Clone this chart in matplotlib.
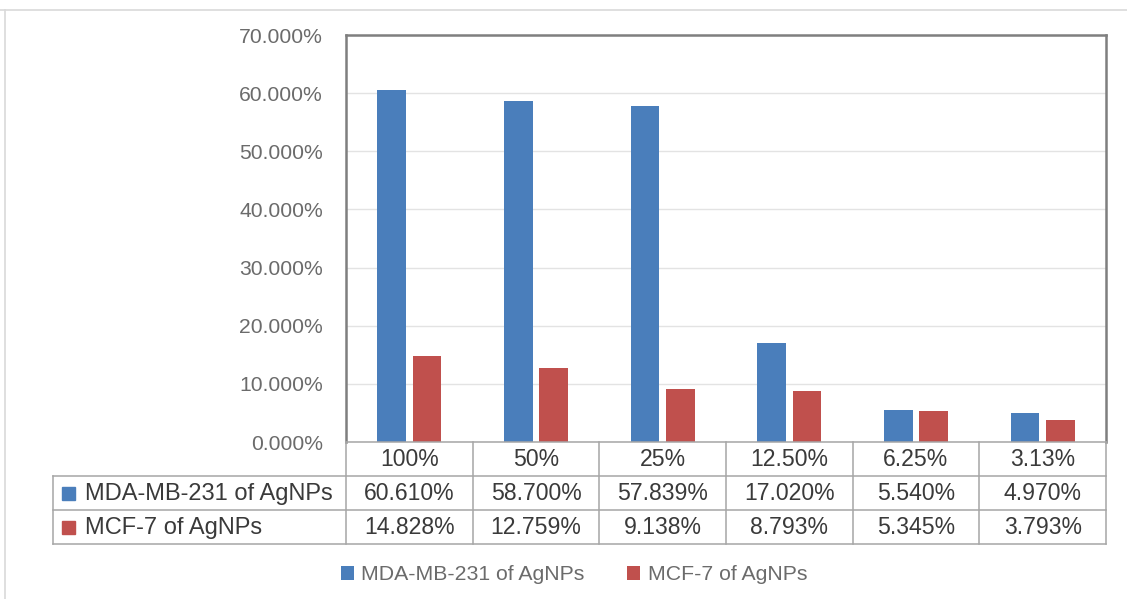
import matplotlib
matplotlib.use("Agg")
import matplotlib.pyplot as plt
from matplotlib.lines import Line2D
from matplotlib.patches import Rectangle
from matplotlib.ticker import FuncFormatter, MultipleLocator
import numpy as np

plt.rcParams["font.family"] = ["Liberation Sans", "DejaVu Sans"]

concentrations = ["100%", "50%", "25%", "12.50%", "6.25%", "3.13%"]
mda_mb_231 = [60.610, 58.700, 57.839, 17.020, 5.540, 4.970]
mcf_7 = [14.828, 12.759, 9.138, 8.793, 5.345, 3.793]
series_names = ["MDA-MB-231 of AgNPs", "MCF-7 of AgNPs"]

C_BLUE, C_RED = "#4a7ebb", "#c0504d"
C_TICK, C_TEXT = "#6b6b6b", "#3a3a3a"
C_GRID, C_TABLE, C_FRAME = "#e3e3e3", "#a6a6a6", "#7f7f7f"

W, H = 1127, 599


def px_rect(x0, y0, x1, y1):
    """pixel box (top-left origin) -> figure fraction [l, b, w, h]"""
    return [x0 / W, 1 - y1 / H, (x1 - x0) / W, (y1 - y0) / H]


fig = plt.figure(figsize=(W / 100, H / 100), dpi=100)

# light outer chart-area border
fig.add_artist(Line2D([0, 1], [1 - 10 / H] * 2, color="#d9d9d9", lw=1.2))
fig.add_artist(Line2D([5 / W] * 2, [0, 1 - 10 / H], color="#d9d9d9", lw=1.2))

ax = fig.add_axes(px_rect(346, 35, 1106, 442))
x = np.arange(len(concentrations))
bw, off = 0.225, 0.14
bars_a = ax.bar(x - off, mda_mb_231, bw, color=C_BLUE, zorder=3)
bars_b = ax.bar(x + off, mcf_7, bw, color=C_RED, zorder=3)

ax.set_xlim(-0.5, len(concentrations) - 0.5)
ax.set_ylim(0, 70)
ax.yaxis.set_major_locator(MultipleLocator(10))
ax.yaxis.set_major_formatter(FuncFormatter(lambda v, _: f"{v:.3f}%"))
ax.tick_params(axis="y", length=0, pad=16.5, labelsize=15.2,
               labelcolor=C_TICK)
ax.set_xticks([])
ax.grid(axis="y", color=C_GRID, lw=1.0, zorder=0)
for side in ("left", "top", "right"):
    ax.spines[side].set_color(C_FRAME)
    ax.spines[side].set_linewidth(1.8)
ax.spines["bottom"].set_visible(False)

# data table under the plot, sharing the category spacing of the bars
left_px = 53
cat_px = (1106 - 346) / len(concentrations)
x_left = -0.5 - (346 - left_px) / cat_px
tb = fig.add_axes(px_rect(left_px, 442, 1106, 544))
tb.set_xlim(x_left, len(concentrations) - 0.5)
tb.set_ylim(3, 0)
tb.axis("off")

n = len(concentrations)
line_kw = dict(color=C_TABLE, lw=1.1, clip_on=False)
tb.plot([-0.5, n - 0.5], [0, 0], **line_kw)
for yy in (1, 2, 3):
    tb.plot([x_left, n - 0.5], [yy, yy], **line_kw)
tb.plot([x_left, x_left], [1, 3], **line_kw)
for k in range(n + 1):
    tb.plot([k - 0.5, k - 0.5], [0, 3], **line_kw)

for i, lab in enumerate(concentrations):
    tb.text(i, 0.52, lab, ha="center", va="center", fontsize=16.6,
            color=C_TEXT)
for r, (vals, name, col) in enumerate(zip([mda_mb_231, mcf_7], series_names,
                                          [C_BLUE, C_RED]), start=1):
    for i, v in enumerate(vals):
        tb.text(i, r + 0.52, f"{v:.3f}%", ha="center", va="center",
                fontsize=16.6, color=C_TEXT)
    sq_w = 13 / cat_px
    tb.add_patch(Rectangle((x_left + 9 / cat_px, r + 0.5 - 13 / 68), sq_w,
                           13 / 34, color=col, clip_on=False))
    tb.text(x_left + 32 / cat_px, r + 0.52, name, ha="left", va="center",
            fontsize=17, color=C_TEXT)

fig.legend([bars_a, bars_b], series_names, loc="center",
           bbox_to_anchor=(574 / W, 1 - 575 / H), ncol=2, frameon=False,
           fontsize=15.3, labelcolor=C_TICK, handlelength=0.62,
           handleheight=0.62, handletextpad=0.34, columnspacing=2.0)

fig.savefig("out.png", dpi=100)
